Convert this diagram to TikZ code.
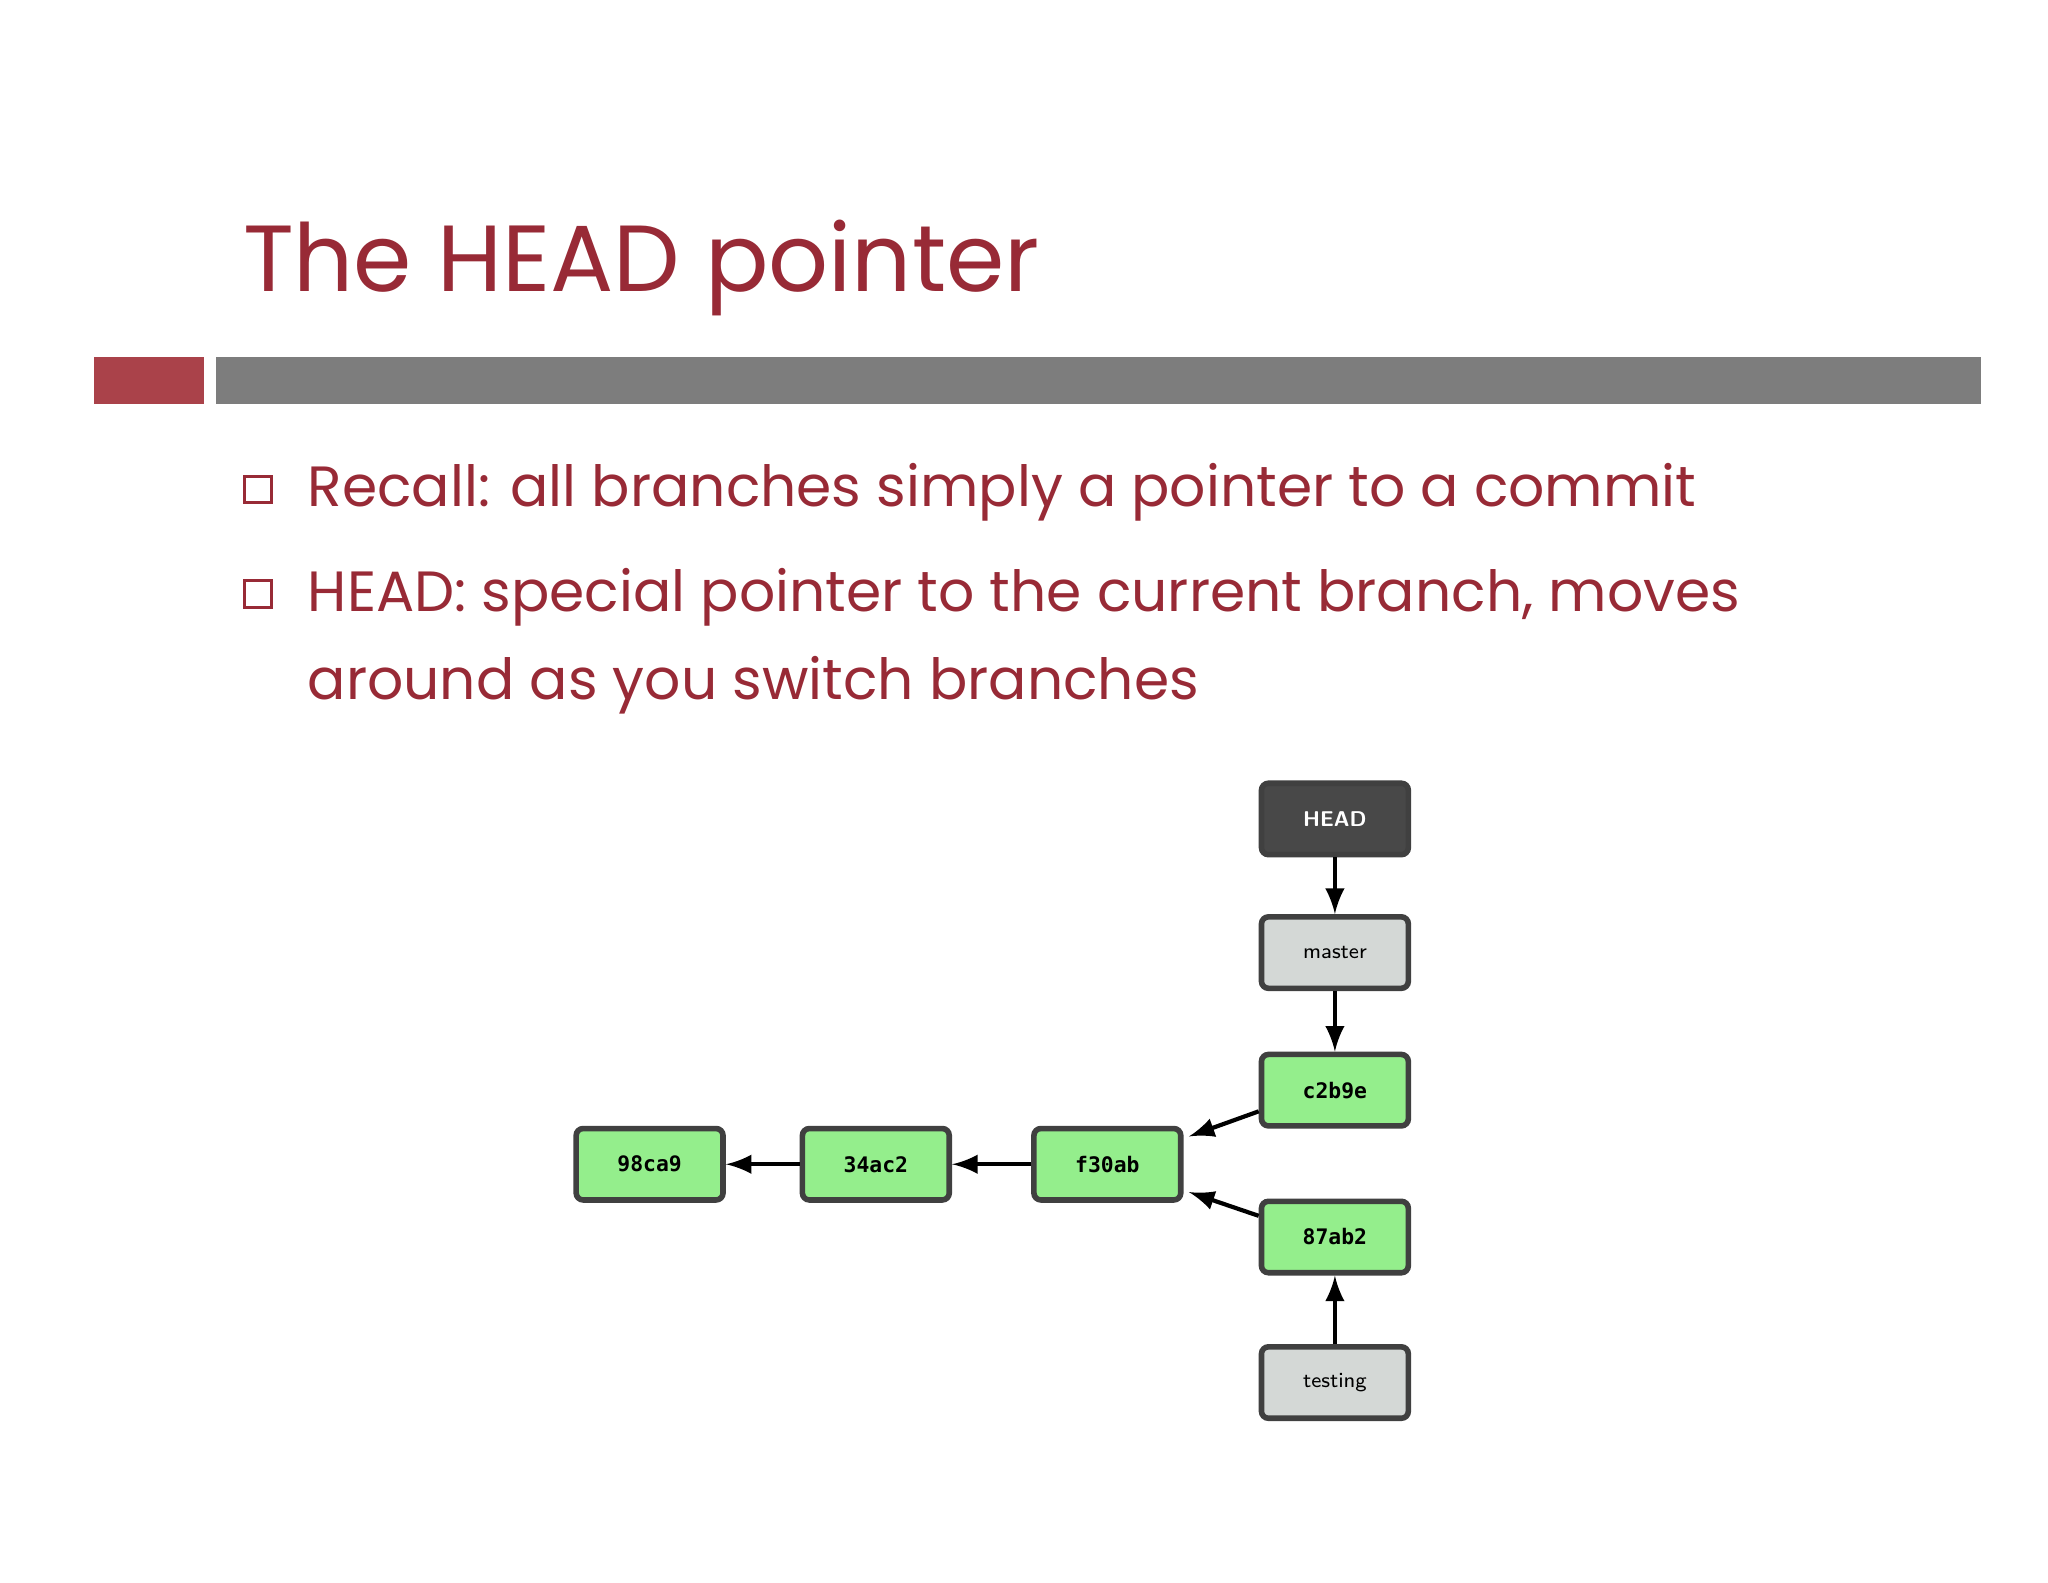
\documentclass[tikz,border=0pt]{standalone}
\usepackage{fontspec}
\setmainfont{Poppins}
\setmonofont{DejaVu Sans Mono}
\usetikzlibrary{positioning}
\definecolor{slidered}{RGB}{152,42,54}
\definecolor{barred}{RGB}{170,66,74}
\definecolor{bargray}{RGB}{125,125,125}
\definecolor{commitgreen}{RGB}{148,238,140}
\definecolor{branchgray}{RGB}{212,216,214}
\definecolor{headgray}{RGB}{72,72,72}
\begin{document}
\begin{tikzpicture}[x=0.1mm,y=-0.1mm,
	box/.style={draw=black!75,line width=1.2pt,rounded corners=1.5pt,minimum width=11.1mm,minimum height=5.4mm,inner sep=0pt,font=\ttfamily\bfseries\fontsize{4.6}{5}\selectfont},
	commit/.style={box,fill=commitgreen},
	branch/.style={box,fill=branchgray,font=\sffamily\fontsize{4.6}{5}\selectfont},
	ptr/.style={-latex,line width=0.9pt},
	bullet/.style={anchor=base west,text=slidered,font=\fontsize{12.2}{14}\selectfont}]
		\useasboundingbox[fill=white] (0,0) rectangle (1548,1196);
		% title and bars
		\node[anchor=base west,inner sep=0pt,text=slidered,font=\fontsize{20.2}{24}\selectfont] (title) at (183,220) {The HEAD pointer};
		\fill[barred] (71,270) rectangle (154,305);
		\fill[bargray] (163,270) rectangle (1497,305);
		
		% bullets
		\foreach \y/\mytext in {383/{Recall: all branches simply a pointer to a commit},
			462/{HEAD: special pointer to the current branch, moves}} {
			\draw[slidered,line width=0.6pt] (185,\y-23) rectangle (205,\y-3);
			\node[bullet,inner sep=0pt] at (232,\y) {\mytext};
		}
		\node[bullet,inner sep=0pt] (cont) at (232,529) {around as you switch branches};
		
		% commits and branches
		\node[box,fill=headgray,text=white,font=\sffamily\bfseries\fontsize{4.6}{5}\selectfont] (head) at (1009,619) {HEAD};
		\node[branch] (master) at (1009,720) {master};
		\node[commit] (c2b9e) at (1009,824) {c2b9e};
		\node[commit] (f30ab) at (837,880) {f30ab};
		\node[commit] (34ac2) at (662,880) {34ac2};
		\node[commit] (98ca9) at (491,880) {98ca9};
		\node[commit] (87ab2) at (1009,935) {87ab2};
		\node[branch] (testing) at (1009,1045) {testing};
		
		% pointers
		\draw[ptr] (head) -- (master);
		\draw[ptr] (master) -- (c2b9e);
		\draw[ptr] ([yshift=-1.6mm]c2b9e.west) -- ([xshift=0.4mm,yshift=2.1mm]f30ab.east);
		\draw[ptr] ([yshift=1.6mm]87ab2.west) -- ([xshift=0.4mm,yshift=-2.1mm]f30ab.east);
		\draw[ptr] (testing) -- (87ab2);
		\draw[ptr] (f30ab) -- (34ac2);
		\draw[ptr] (34ac2) -- (98ca9);
\end{tikzpicture}
\end{document}
